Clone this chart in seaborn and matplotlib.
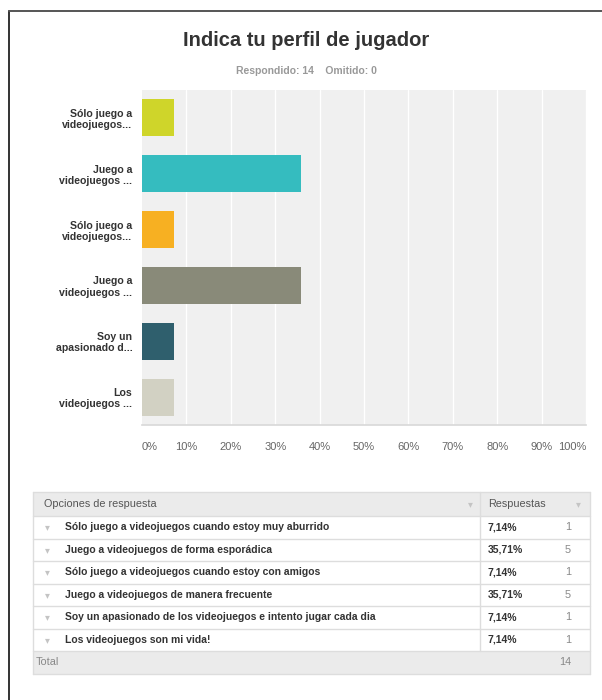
import matplotlib
matplotlib.use("Agg")
import matplotlib.pyplot as plt
from matplotlib.patches import Rectangle
from matplotlib.lines import Line2D
import seaborn as sns
import pandas as pd

# ---------------- data ----------------
title = "Indica tu perfil de jugador"
subtitle = "Respondido: 14    Omitido: 0"
options = [
    "Sólo juego a videojuegos cuando estoy muy aburrido",
    "Juego a videojuegos de forma esporádica",
    "Sólo juego a videojuegos cuando estoy con amigos",
    "Juego a videojuegos de manera frecuente",
    "Soy un apasionado de los videojuegos e intento jugar cada dia",
    "Los videojuegos son mi vida!",
]
short_labels = [
    "Sólo juego a\nvideojuegos...",
    "Juego a\nvideojuegos ...",
    "Sólo juego a\nvideojuegos...",
    "Juego a\nvideojuegos ...",
    "Soy un\napasionado d...",
    "Los\nvideojuegos ...",
]
counts = [1, 5, 1, 5, 1, 1]
percents = [7.14, 35.71, 7.14, 35.71, 7.14, 7.14]
total = 14
tick_values = [0, 10, 20, 30, 40, 50, 60, 70, 80, 90, 100]
tick_labels = ["0%", "10%", "20%", "30%", "40%", "50%", "60%", "70%", "80%", "90%", "100%"]
colors = ["#cfd52a", "#35bcbf", "#f7b022", "#898a79", "#2f5f6d", "#d2d1c3"]
header_left = "Opciones de respuesta"
header_right = "Respuestas"
total_label = "Total"

df = pd.DataFrame({"option": options, "percent": percents})

# ---------------- figure ----------------
sns.set_theme(style="white")
plt.rcParams["font.family"] = ["Liberation Sans", "DejaVu Sans"]

W, H = 602, 700
fig = plt.figure(figsize=(W / 100, H / 100), dpi=100)
fig.patch.set_facecolor("white")

def fx(x):
    return x / W

def fy(y):
    return 1 - y / H

# border (left + top)
fig.add_artist(Line2D([fx(9), fx(9)], [fy(11), fy(700)], color="#333333", lw=1.4))
fig.add_artist(Line2D([fx(9), fx(602)], [fy(11), fy(11)], color="#555555", lw=1.4))

# title and subtitle
fig.text(0.5 + fx(5), fy(40), title, ha="center", va="center", fontsize=14.5,
         fontweight="bold", color="#333333")
fig.text(0.5 + fx(5), fy(71), subtitle, ha="center", va="center", fontsize=7.5,
         fontweight="bold", color="#999999")

# bar chart
x0, x1, y0, y1 = 142, 586, 90, 425
ax = fig.add_axes([fx(x0), fy(y1), fx(x1 - x0), (y1 - y0) / H])
ax.set_facecolor("#f0f0f0")
sns.barplot(data=df, y="option", x="percent", hue="option", palette=colors,
            orient="h", width=0.66, ax=ax, legend=False, zorder=3,
            edgecolor="none", saturation=1)
ax.set_xlim(0, 100)
ax.set_xticks(tick_values)
ax.set_xticklabels(tick_labels, fontsize=8, color="#666666")
for i, t in enumerate(ax.get_xticklabels()):
    if i == 0:
        t.set_ha("left")
    elif i == len(tick_labels) - 1:
        t.set_ha("right")
ax.set_yticks(range(len(options)))
ax.set_yticklabels(short_labels, fontsize=7.6, fontweight="bold", color="#333333",
                   linespacing=1.15)
ax.set_xlabel("")
ax.set_ylabel("")
ax.tick_params(axis="x", length=0, pad=12)
ax.tick_params(axis="y", length=0, pad=7)
for v in tick_values[1:]:
    ax.axvline(v, color="white", lw=1.0, zorder=1)
for s in ["top", "right", "left"]:
    ax.spines[s].set_visible(False)
ax.spines["bottom"].set_color("#d8d8d8")
ax.spines["bottom"].set_linewidth(1.2)

# ---------------- table ----------------
tl, tr, sep = 33, 590, 480
head_top, head_bot = 492, 516
row_h = 22.5
line_col = "#dddddd"

def rect(x, y, w, h, fc, ec="none", lw=0):
    fig.add_artist(Rectangle((fx(x), fy(y + h)), fx(w), h / H, facecolor=fc,
                             edgecolor=ec, lw=lw, transform=fig.transFigure))

def hline(y, xa=tl, xb=tr, c=line_col):
    fig.add_artist(Line2D([fx(xa), fx(xb)], [fy(y), fy(y)], color=c, lw=1.0))

def vline(x, ya, yb, c=line_col):
    fig.add_artist(Line2D([fx(x), fx(x)], [fy(ya), fy(yb)], color=c, lw=1.0))

# header
rect(tl, head_top, tr - tl, head_bot - head_top, "#ebebeb")
fig.text(fx(44), fy((head_top + head_bot) / 2), header_left, ha="left", va="center",
         fontsize=7.8, color="#555555")
fig.text(fx(488), fy((head_top + head_bot) / 2), header_right, ha="left", va="center",
         fontsize=7.8, color="#555555")
fig.text(fx(470), fy((head_top + head_bot) / 2), "▾", ha="center", va="center",
         fontsize=7, color="#c4c4c4", family="DejaVu Sans")
fig.text(fx(578), fy((head_top + head_bot) / 2), "▾", ha="center", va="center",
         fontsize=7, color="#c4c4c4", family="DejaVu Sans")

# rows
y = head_bot
for opt, pct, cnt in zip(options, percents, counts):
    yc = y + row_h / 2
    fig.text(fx(47), fy(yc), "▾", ha="center", va="center", fontsize=7,
             color="#c4c4c4", family="DejaVu Sans")
    fig.text(fx(65), fy(yc), opt, ha="left", va="center", fontsize=7.5,
             fontweight="bold", color="#333333")
    fig.text(fx(488), fy(yc), f"{pct:.2f}%".replace(".", ","), ha="left", va="center",
             fontsize=7.5, fontweight="bold", color="#333333")
    fig.text(fx(571), fy(yc), str(cnt), ha="right", va="center", fontsize=7.8,
             color="#888888")
    y += row_h
    hline(y)
rows_bot = y
vline(sep, head_top, rows_bot)

# total row
tot_bot = rows_bot + row_h
rect(tl, rows_bot, tr - tl, row_h, "#ebebeb")
fig.text(fx(36), fy((rows_bot + tot_bot) / 2), total_label, ha="left", va="center",
         fontsize=7.8, color="#888888")
fig.text(fx(571), fy((rows_bot + tot_bot) / 2), str(total), ha="right", va="center",
         fontsize=7.8, color="#888888")

# table outline
hline(head_top)
hline(head_bot)
hline(tot_bot)
vline(tl, head_top, tot_bot)
vline(tr, head_top, tot_bot)

fig.savefig("out.png", dpi=100, facecolor="white")
